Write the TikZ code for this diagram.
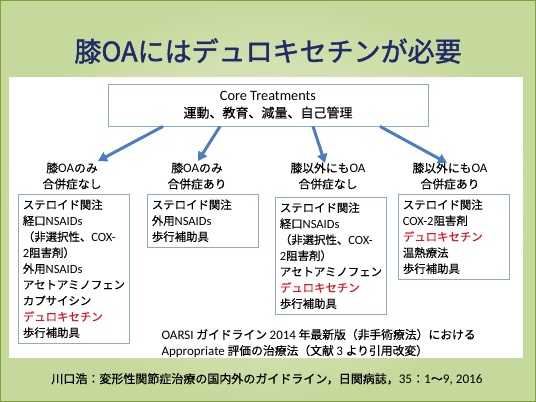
\documentclass[tikz,border=0pt]{standalone}
\usepackage{fontspec}
\usepackage{xcolor}
\setmainfont{Noto Sans CJK JP}[FakeBold=0.2]
\newfontfamily\lat{Carlito}[Scale=1.1]
\newfontfamily\titlefont{Noto Sans CJK JP}[FakeBold=1.6]
\usetikzlibrary{arrows.meta,positioning}

\definecolor{slidegreen}{HTML}{7FA23A}
\definecolor{bginner}{HTML}{EDF3DA}
\definecolor{bgouter}{HTML}{C6D99C}
\definecolor{titlenavy}{HTML}{1F2B6A}
\definecolor{boxblue}{HTML}{8FAACB}
\definecolor{arrowblue}{HTML}{4A7DC2}
\definecolor{drugred}{HTML}{D8141E}

\newcommand{\en}[1]{{\lat #1}}
\newcommand{\drug}[1]{\textcolor{drugred}{#1}}

\begin{document}
\begin{tikzpicture}[x=1pt,y=-1pt,every node/.style={font=\fontsize{11.8}{16}\selectfont},
  treatbox/.style={draw=boxblue,line width=0.8pt,fill=white,anchor=north west,
    align=left,text width=102pt,inner xsep=4.5pt,inner ysep=5pt,
    font=\fontsize{11.4}{16}\selectfont},
  groupname/.style={align=center},
  flow/.style={-{Triangle[length=9pt,width=10pt]},line width=3pt,draw=arrowblue}]
  \useasboundingbox (0,0) rectangle (536,402);
  % slide background
  \shade[inner color=bginner,outer color=bgouter] (0,0) rectangle (536,402);
  \draw[slidegreen,line width=2.5pt] (0,0) rectangle (536,402);
  \fill[white] (9,77) rectangle (523,358);

  \node[font=\titlefont\fontsize{27}{30}\selectfont,text=titlenavy] (title) at (268,51) {膝OAにはデュロキセチンが必要};

  \node[draw=boxblue,line width=0.8pt,minimum width=320pt,minimum height=42pt,align=center,
        font=\fontsize{13}{17}\selectfont] (core) at (268,105)
        {\en{Core Treatments}\\運動、教育、減量、自己管理};

  % patient groups
  \node[groupname] (g1) at (72,176)  {膝\en{OA}のみ\\合併症なし};
  \node[groupname] (g2) at (197,176) {膝\en{OA}のみ\\合併症あり};
  \node[groupname] (g3) at (328,176) {膝以外にも\en{OA}\\合併症なし};
  \node[groupname] (g4) at (450,176) {膝以外にも\en{OA}\\合併症あり};

  \draw[flow] ([xshift=-105pt]core.south) -- ([xshift=26pt,yshift=-2pt]g1.north);
  \draw[flow] ([xshift=-48pt]core.south) -- ([xshift=1pt,yshift=-2pt]g2.north);
  \draw[flow] ([xshift=45pt]core.south) -- ([xshift=-3pt,yshift=-4pt]g3.north);
  \draw[flow] ([xshift=112pt]core.south) -- ([xshift=-3pt,yshift=-4pt]g4.north);

  % recommended treatments
  \node[treatbox] (b1) at (18,194) {ステロイド関注\\経口\en{NSAIDs}\\（非選択性、\en{COX-}\\\en{2}阻害剤）\\外用\en{NSAIDs}\\アセトアミノフェン\\カプサイシン\\\drug{デュロキセチン}\\歩行補助具};
  \node[treatbox] (b2) at (147,194) {ステロイド関注\\外用\en{NSAIDs}\\歩行補助具};
  \node[treatbox] (b3) at (275,197) {ステロイド関注\\経口\en{NSAIDs}\\（非選択性、\en{COX-}\\\en{2}阻害剤）\\アセトアミノフェン\\\drug{デュロキセチン}\\歩行補助具};
  \node[treatbox] (b4) at (398,194) {ステロイド関注\\\en{COX-2}阻害剤\\\drug{デュロキセチン}\\温熱療法\\歩行補助具};

  \node[anchor=west,align=left] (note) at (158,343)
    {\en{OARSI} ガイドライン \en{2014} 年最新版（非手術療法）における\\\en{Appropriate} 評価の治療法（文献 \en{3} より引用改変）};

  \node[font=\fontsize{12}{14}\selectfont] (source) at (267,379)
    {川口浩：変形性関節症治療の国内外のガイドライン，日関病誌，\en{35}：\en{1}〜\en{9, 2016}};
\end{tikzpicture}
\end{document}
